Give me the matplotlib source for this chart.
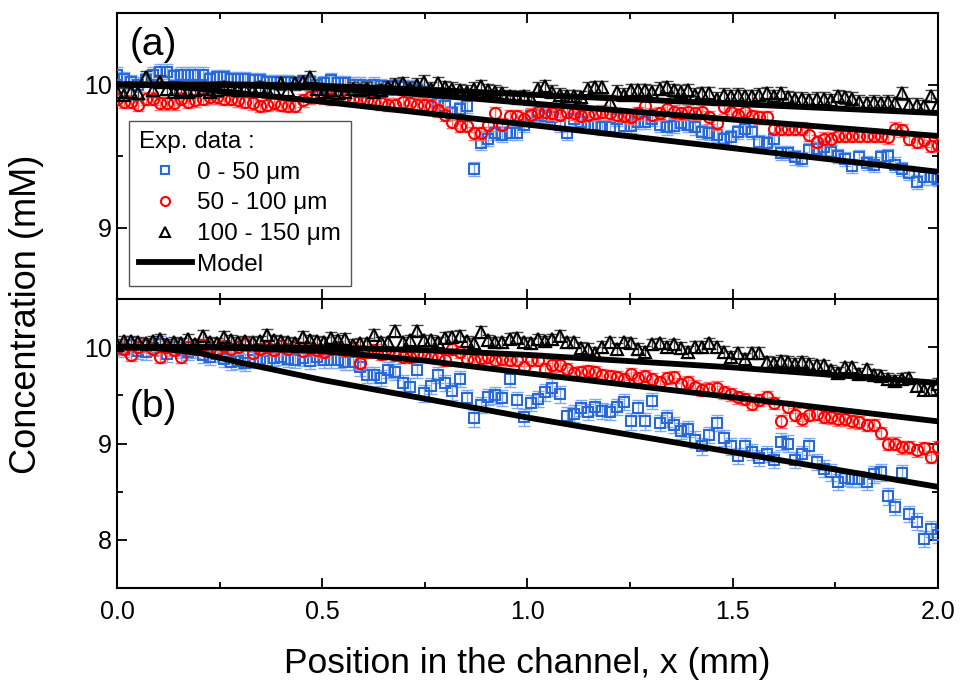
import numpy as np
import matplotlib
matplotlib.use("Agg")
import matplotlib.pyplot as plt
from matplotlib.ticker import MultipleLocator
from matplotlib.lines import Line2D

plt.rcParams['font.family'] = ['Liberation Sans', 'DejaVu Sans']

# Positions along the channel (mm)
x = np.linspace(0.0, 2.0, 116)

# ---- Panel (a) data (mM) ----
a_blue = [10.07, 10.04, 10.02, 10.00, 10.03, 10.07, 10.09, 10.09, 10.06, 10.07,
          10.07, 10.07, 10.07, 10.04, 10.05, 10.05, 10.04, 10.04, 10.04, 10.03,
          10.03, 10.02, 10.02, 10.02, 10.02, 10.01, 10.02, 10.02, 10.00, 10.01,
          10.03, 10.01, 10.01, 10.00, 10.00, 9.99, 10.00, 9.99, 9.98, 9.99,
          9.98, 9.98, 9.96, 9.95, 9.93, 9.87, 9.85, 9.80, 9.83, 9.85,
          9.41, 9.59, 9.62, 9.66, 9.65, 9.66, 9.66, 9.72, 9.78, 9.79,
          9.78, 9.77, 9.72, 9.66, 9.76, 9.74, 9.72, 9.72, 9.70, 9.70,
          9.76, 9.71, 9.71, 9.74, 9.74, 9.76, 9.72, 9.70, 9.71, 9.73,
          9.72, 9.70, 9.67, 9.66, 9.65, 9.62, 9.63, 9.67, 9.69, 9.67,
          9.60, 9.59, 9.62, 9.52, 9.52, 9.49, 9.48, 9.54, 9.55, 9.56,
          9.53, 9.50, 9.48, 9.43, 9.49, 9.45, 9.44, 9.49, 9.50, 9.44,
          9.41, 9.38, 9.32, 9.35, 9.35, 9.34]
a_red = [9.90, 9.88, 9.88, 9.86, 9.90, 9.90, 9.87, 9.87, 9.87, 9.90,
         9.88, 9.89, 9.90, 9.91, 9.91, 9.90, 9.90, 9.89, 9.88, 9.87,
         9.85, 9.86, 9.87, 9.86, 9.85, 9.85, 9.89, 9.91, 9.92, 9.91,
         9.90, 9.92, 9.91, 9.90, 9.90, 9.89, 9.88, 9.87, 9.86, 9.86,
         9.88, 9.87, 9.86, 9.86, 9.85, 9.82, 9.79, 9.74, 9.71, 9.71,
         9.66, 9.66, 9.72, 9.80, 9.72, 9.78, 9.78, 9.76, 9.79, 9.81,
         9.81, 9.80, 9.79, 9.81, 9.80, 9.78, 9.79, 9.80, 9.81, 9.80,
         9.79, 9.78, 9.77, 9.80, 9.85, 9.79, 9.80, 9.83, 9.81, 9.80,
         9.81, 9.80, 9.81, 9.77, 9.73, 9.84, 9.81, 9.79, 9.81, 9.78,
         9.77, 9.77, 9.69, 9.69, 9.69, 9.69, 9.69, 9.65, 9.60, 9.62,
         9.62, 9.64, 9.64, 9.64, 9.64, 9.64, 9.64, 9.64, 9.63, 9.69,
         9.68, 9.62, 9.60, 9.61, 9.57, 9.58]
a_black = [9.95, 9.93, 9.95, 9.94, 10.05, 9.96, 10.02, 9.97, 9.95, 9.96,
           9.95, 9.96, 9.97, 9.95, 9.96, 9.98, 9.97, 9.96, 9.97, 9.96,
           9.98, 9.96, 9.97, 10.01, 9.96, 10.01, 10.02, 10.05, 9.97, 9.95,
           9.96, 9.94, 9.95, 9.97, 9.96, 9.97, 9.95, 9.96, 9.98, 10.00,
           10.01, 9.97, 10.00, 10.02, 9.97, 10.01, 9.98, 9.97, 9.96, 9.95,
           9.97, 9.99, 9.96, 9.95, 9.94, 9.92, 9.91, 9.92, 9.90, 9.97,
           9.99, 9.95, 9.93, 9.92, 9.92, 9.91, 9.97, 9.98, 9.98, 9.88,
           9.95, 9.93, 9.96, 9.96, 9.96, 9.95, 9.97, 9.98, 9.96, 9.95,
           9.96, 9.93, 9.94, 9.94, 9.90, 9.93, 9.92, 9.93, 9.92, 9.92,
           9.93, 9.94, 9.92, 9.94, 9.91, 9.90, 9.90, 9.89, 9.90, 9.90,
           9.89, 9.92, 9.91, 9.90, 9.88, 9.87, 9.88, 9.87, 9.88, 9.87,
           9.94, 9.86, 9.86, 9.85, 9.92, 9.86]

# ---- Panel (b) data (mM) ----
b_blue = [10.00, 9.98, 10.02, 9.96, 9.95, 9.99, 10.03, 9.93, 10.00, 9.97,
          9.95, 9.97, 9.92, 9.90, 9.93, 9.88, 9.85, 9.86, 9.84, 9.87,
          9.88, 9.86, 9.89, 9.90, 9.88, 9.87, 9.89, 9.86, 9.90, 9.87,
          9.87, 9.87, 9.85, 9.85, 9.79, 9.71, 9.71, 9.68, 9.76, 9.74,
          9.63, 9.59, 9.76, 9.52, 9.60, 9.71, 9.63, 9.54, 9.67, 9.47,
          9.26, 9.40, 9.48, 9.50, 9.47, 9.67, 9.45, 9.27, 9.42, 9.46,
          9.53, 9.58, 9.51, 9.29, 9.31, 9.37, 9.33, 9.38, 9.34, 9.33,
          9.38, 9.43, 9.23, 9.37, 9.23, 9.44, 9.21, 9.26, 9.19, 9.13,
          9.15, 9.04, 8.97, 9.09, 9.21, 9.06, 8.97, 8.87, 8.97, 8.91,
          8.85, 8.89, 8.83, 9.02, 9.00, 8.83, 8.89, 8.97, 8.81, 8.74,
          8.70, 8.60, 8.64, 8.63, 8.63, 8.60, 8.68, 8.70, 8.45, 8.34,
          8.69, 8.27, 8.19, 8.01, 8.11, 8.05]
b_red = [10.00, 9.98, 9.92, 10.00, 10.02, 9.98, 9.90, 10.00, 9.97, 9.90,
         10.00, 9.98, 10.02, 9.99, 9.97, 10.01, 9.98, 10.00, 10.03, 9.94,
         9.98, 10.00, 9.97, 10.01, 9.98, 10.00, 9.96, 9.99, 9.97, 9.95,
         9.98, 10.00, 9.97, 9.99, 9.84, 9.95, 9.97, 9.93, 9.95, 9.92,
         9.90, 9.90, 9.93, 9.92, 9.90, 9.89, 9.87, 9.98, 9.95, 9.88,
         9.87, 9.89, 9.90, 9.87, 9.88, 9.87, 9.87, 9.79, 9.87, 9.87,
         9.77, 9.81, 9.81, 9.77, 9.73, 9.74, 9.75, 9.74, 9.71, 9.70,
         9.69, 9.67, 9.72, 9.68, 9.70, 9.67, 9.64, 9.68, 9.69, 9.62,
         9.64, 9.59, 9.56, 9.57, 9.58, 9.53, 9.51, 9.48, 9.46, 9.41,
         9.45, 9.48, 9.42, 9.23, 9.38, 9.30, 9.25, 9.30, 9.31, 9.28,
         9.27, 9.25, 9.25, 9.23, 9.22, 9.19, 9.19, 9.11, 9.00, 9.00,
         8.96, 8.96, 8.93, 8.95, 8.86, 8.96]
b_black = [10.02, 10.06, 10.06, 10.05, 10.04, 10.06, 10.08, 10.03, 10.05, 10.04,
           10.08, 10.03, 10.12, 10.05, 10.04, 10.11, 10.07, 10.05, 10.06, 10.05,
           10.06, 10.13, 10.07, 10.06, 10.05, 10.04, 10.11, 10.07, 10.06, 10.05,
           10.10, 10.07, 10.09, 10.02, 10.04, 10.04, 10.13, 10.05, 10.05, 10.17,
           10.05, 10.07, 10.17, 10.07, 10.07, 10.05, 10.10, 10.11, 10.12, 10.06,
           10.04, 10.16, 10.07, 10.05, 10.05, 10.09, 10.10, 10.05, 10.04, 10.08,
           10.06, 10.08, 10.12, 10.05, 10.05, 9.99, 9.98, 9.94, 10.00, 10.05,
           9.98, 10.05, 10.04, 9.98, 9.95, 10.03, 10.04, 10.00, 10.03, 9.99,
           9.95, 10.00, 10.00, 10.04, 10.00, 9.95, 9.90, 9.94, 9.88, 9.94,
           9.94, 9.85, 9.84, 9.86, 9.85, 9.83, 9.85, 9.83, 9.81, 9.81,
           9.76, 9.73, 9.79, 9.79, 9.72, 9.77, 9.71, 9.70, 9.67, 9.65,
           9.67, 9.68, 9.60, 9.56, 9.56, 9.62]

# Error bar half-widths (mM)
err_a = {'blue': 0.05, 'red': 0.045, 'black': 0.045}
err_b = {'blue': 0.085, 'red': 0.065, 'black': 0.06}

# ---- Model curves (nodes) ----
model_x = [0.0, 0.1, 0.2, 0.3, 0.5, 0.75, 1.0, 1.5, 2.0]
a_model_blue = [10.0, 9.995, 9.97, 9.94, 9.88, 9.80, 9.72, 9.555, 9.39]
a_model_red = [10.0, 10.0, 10.0, 9.995, 9.975, 9.93, 9.87, 9.755, 9.64]
a_model_black = [10.0, 10.0, 10.0, 10.0, 9.99, 9.965, 9.93, 9.865, 9.80]
b_model_blue = [10.0, 9.99, 9.94, 9.84, 9.66, 9.465, 9.27, 8.91, 8.55]
b_model_red = [10.0, 10.0, 10.0, 9.99, 9.96, 9.86, 9.73, 9.48, 9.23]
b_model_black = [10.0, 10.0, 10.0, 10.0, 9.995, 9.97, 9.92, 9.79, 9.63]

legend_labels = ['0 - 50 μm', '50 - 100 μm', '100 - 150 μm', 'Model']
legend_title = 'Exp. data :'

c_blue, c_blue_e = '#2a6ad8', '#7ea9ee'
c_red, c_red_e = '#ff0000', '#ff6a6a'
c_black, c_black_e = '#000000', '#444444'

fig = plt.figure(figsize=(9.61, 6.81), dpi=100)
ax_a = fig.add_axes([0.1217, 0.5609, 0.8543, 0.4200])
ax_b = fig.add_axes([0.1217, 0.1366, 0.8543, 0.4243])

styles = [
    ('blue', 's', 7.0, c_blue, c_blue_e),
    ('red', 'o', 8.0, c_red, c_red_e),
    ('black', '^', 8.5, c_black, c_black_e),
]

def draw(ax, data, errs, models):
    for z, ((key, mk, ms, col, ecol), y) in enumerate(zip(styles, data)):
        ax.errorbar(x, y, yerr=errs[key], fmt='none', ecolor=ecol,
                    elinewidth=1.0, capsize=4, capthick=1.0, zorder=2 + 2 * z)
        ax.plot(x, y, linestyle='none', marker=mk, ms=ms, mfc='none',
                mec=col, mew=1.5, zorder=3 + 2 * z)
    for m in models:
        ax.plot(model_x, m, color='black', lw=4.2, solid_capstyle='butt',
                zorder=10)
    ax.set_xlim(0, 2.0)
    ax.xaxis.set_major_locator(MultipleLocator(0.5))
    ax.xaxis.set_minor_locator(MultipleLocator(0.25))
    ax.yaxis.set_minor_locator(MultipleLocator(0.5))
    ax.tick_params(which='both', direction='in', top=True, right=True,
                   width=1.3, labelsize=18)
    ax.tick_params(which='major', length=7)
    ax.tick_params(which='minor', length=4)
    for s in ax.spines.values():
        s.set_linewidth(1.5)

draw(ax_a, [a_blue, a_red, a_black], err_a,
     [a_model_blue, a_model_red, a_model_black])
draw(ax_b, [b_blue, b_red, b_black], err_b,
     [b_model_blue, b_model_red, b_model_black])

ax_a.set_ylim(8.5, 10.5)
ax_a.set_yticks([9, 10])
ax_a.set_yticklabels(['9', '10'])
ax_a.tick_params(labelbottom=False)
ax_b.set_ylim(7.5, 10.5)
ax_b.set_yticks([8, 9, 10])
ax_b.set_yticklabels(['8', '9', '10'])
ax_b.set_xticks([0, 0.5, 1.0, 1.5, 2.0])
ax_b.set_xticklabels(['0.0', '0.5', '1.0', '1.5', '2.0'])
ax_b.tick_params(axis='x', pad=9)

ax_a.text(0.016, 0.888, '(a)', transform=ax_a.transAxes, fontsize=28,
          va='center', ha='left')
ax_b.text(0.016, 0.626, '(b)', transform=ax_b.transAxes, fontsize=28,
          va='center', ha='left')

handles = [
    Line2D([], [], ls='none', marker='s', ms=6.0, mfc='none', mec=c_blue, mew=1.5),
    Line2D([], [], ls='none', marker='o', ms=6.5, mfc='none', mec=c_red, mew=1.5),
    Line2D([], [], ls='none', marker='^', ms=7.0, mfc='none', mec=c_black, mew=1.5),
    Line2D([], [], color='black', lw=4.2),
]
leg = ax_a.legend(handles, legend_labels, title=legend_title,
                  loc='upper left', bbox_to_anchor=(0.0146, 0.622),
                  borderaxespad=0, fontsize=17.5, title_fontsize=17.5,
                  alignment='left', fancybox=False, edgecolor='#555555',
                  framealpha=1, handlelength=2.2, handletextpad=0.2,
                  labelspacing=0.36, borderpad=0.4)
leg.get_frame().set_linewidth(1.0)
leg.set_zorder(20)

fig.text(0.028, 0.539, 'Concentration (mM)', rotation=90, fontsize=26,
         va='center', ha='center')
fig.text(0.5488, 0.026, 'Position in the channel, x (mm)', fontsize=25.5,
         va='center', ha='center')

fig.savefig('out.png', dpi=100)
